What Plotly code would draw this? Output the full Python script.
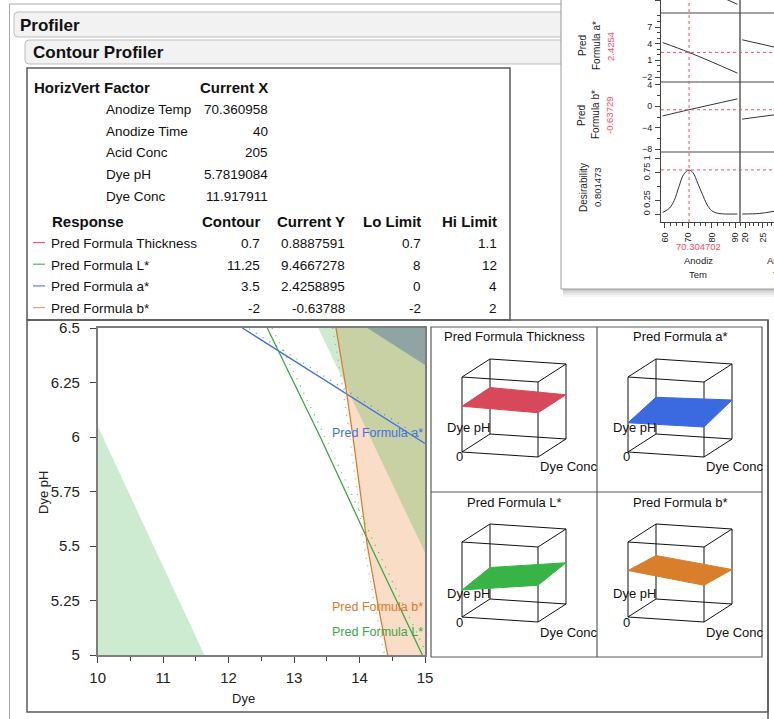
import plotly.graph_objects as go

W, H = 774, 719
FONT = "Liberation Sans, Arial, Helvetica, sans-serif"


def PX(x):
    return x / W


def PY(y):
    return 1 - y / H


# ---------------- data: table ----------------
factor_names = ["Anodize Temp", "Anodize Time", "Acid Conc", "Dye pH", "Dye Conc"]
factor_current_x = ["70.360958", "40", "205", "5.7819084", "11.917911"]
response_names = ["Pred Formula Thickness", "Pred Formula L*", "Pred Formula a*", "Pred Formula b*"]
response_contour = ["0.7", "11.25", "3.5", "-2"]
response_current_y = ["0.8887591", "9.4667278", "2.4258895", "-0.63788"]
response_lo_limit = ["0.7", "8", "0", "-2"]
response_hi_limit = ["1.1", "12", "4", "2"]
response_legend_colors = ["#e0607a", "#4cb85a", "#5a82e8", "#eda068"]

# ---------------- data: contour plot (Dye Conc x Dye pH) ----------------
conc_range = [10, 15]
ph_range = [5, 6.5]
conc_ticks = [10, 11, 12, 13, 14, 15]
ph_ticks = [5, 5.25, 5.5, 5.75, 6, 6.25, 6.5]
ph_tick_text = ["5", "5.25", "5.5", "5.75", "6", "6.25", "6.5"]

a_line_conc = [12.21, 15.0]
a_line_ph = [6.5, 5.97]
L_line_conc = [12.59, 13.40, 14.17, 14.96]
L_line_ph = [6.5, 6.0, 5.5, 5.0]
b_line_conc = [13.64, 13.78, 13.90, 14.01, 14.12, 14.27, 14.43]
b_line_ph = [6.5, 6.25, 6.0, 5.75, 5.5, 5.25, 5.0]

L_hi_bound_conc = [10.0, 11.63]
L_hi_bound_ph = [6.05, 5.0]
L_lo_bound_conc = [13.37, 15.0]
L_lo_bound_ph = [6.5, 5.47]
a_hi_bound_conc = [14.12, 15.0]
a_hi_bound_ph = [6.5, 6.33]

contour_label_names = ["Pred Formula a*", "Pred Formula b*", "Pred Formula L*"]
contour_label_ph = [6.02, 5.22, 5.105]

# ---------------- data: surface panels ----------------
surf_titles = ["Pred Formula Thickness", "Pred Formula a*", "Pred Formula L*", "Pred Formula b*"]
surf_colors = ["#d8485b", "#3b69df", "#38b447", "#d97f2b"]
# normalised response height at corners (conc lo/ph lo, conc hi/ph lo, conc hi/ph hi, conc lo/ph hi)
surf_heights = [
    [0.61, 0.59, 0.59, 0.62],
    [0.39, 0.40, 0.52, 0.49],
    [0.36, 0.49, 0.55, 0.42],
    [0.62, 0.49, 0.46, 0.58],
]
surf_corner_conc = [0, 1, 1, 0]
surf_corner_ph = [0, 0, 1, 1]
cube_lo, cube_hi = 0, 1

# ---------------- data: prediction profiler inset ----------------
temp_range = [58.3, 92.1]
time_range = [18.6, 28.1]
temp_ticks = [60, 70, 80, 90]
time_ticks = [20, 25]
L_range = [2.45, 5.05]
a_range = [-2.9, 9.52]
b_range = [-8.56, 4.56]
d_range = [-0.145, 1.127]
L_ticks = [5]
a_ticks = [-2, 1, 4, 7]
b_ticks = [-8, -4, 0, 4]
d_ticks = [0, 0.25, 0.75, 1]
d_tick_text = ["0", "0.25", "0.75", "1"]

temp_L_x = [84, 91]
temp_L_y = [5.66, 4.19]
temp_a_x = [59, 70.3, 91]
temp_a_y = [4.2, 2.43, -1.3]
temp_b_x = [59, 70.3, 91]
temp_b_y = [-1.8, -0.64, 1.4]
temp_d_x = [59, 60, 62, 64, 66, 68, 70.3, 72, 74, 76, 78, 80, 82, 84, 86, 91]
temp_d_y = [0.03, 0.05, 0.11, 0.25, 0.5, 0.72, 0.80, 0.75, 0.56, 0.36, 0.17, 0.06, 0.02, 0.005, 0.0, 0.0]
time_a_x = [19.2, 28.1]
time_a_y = [4.7, 3.4]
time_b_x = [19.2, 28.1]
time_b_y = [-2.4, -1.6]
time_d_x = [19.2, 24, 28.1]
time_d_y = [0.0, 0.01, 0.05]

current_temp = 70.304702
current_a = 2.4254
current_b = -0.63729
current_d = 0.801473

fig = go.Figure()
shapes = []
ann = []


def hline(x0, y0, x1, y1, color="#666", width=1, dash="solid", layer="below"):
    shapes.append(dict(type="line", xref="paper", yref="paper", x0=PX(x0), y0=PY(y0),
                       x1=PX(x1), y1=PY(y1), line=dict(color=color, width=width, dash=dash),
                       layer=layer))


def rect(x0, y0, x1, y1, line="#666", width=1, fill="rgba(0,0,0,0)", layer="below"):
    shapes.append(dict(type="rect", xref="paper", yref="paper", x0=PX(x0), y0=PY(y1),
                       x1=PX(x1), y1=PY(y0), line=dict(color=line, width=width),
                       fillcolor=fill, layer=layer))


def text(x, y, s, size=13, color="#111", xanchor="left", bold=False, angle=0,
         xref="paper", yref="paper", yanchor="middle"):
    ax = PX(x) if xref == "paper" else x
    ay = PY(y) if yref == "paper" else y
    ann.append(dict(x=ax, y=ay, xref=xref, yref=yref, text=s, showarrow=False,
                    xanchor=xanchor, yanchor=yanchor, textangle=angle,
                    font=dict(family=FONT, size=size, color=color,
                              weight="bold" if bold else "normal")))


def rounded_box(x0, y0, x1, y1, r=4, fill="#f2f2f2", line="#bdbdbd"):
    path = (f"M {PX(x0 + r)},{PY(y0)} L {PX(x1)},{PY(y0)} L {PX(x1)},{PY(y1)} "
            f"L {PX(x0 + r)},{PY(y1)} Q {PX(x0)},{PY(y1)} {PX(x0)},{PY(y1 - r)} "
            f"L {PX(x0)},{PY(y0 + r)} Q {PX(x0)},{PY(y0)} {PX(x0 + r)},{PY(y0)} Z")
    shapes.append(dict(type="path", xref="paper", yref="paper", path=path,
                       fillcolor=fill, line=dict(color=line, width=1), layer="below"))


# ---------------- chrome ----------------
hline(9.5, 4, 9.5, 719, color="#a8a8a8")
hline(9.5, 4, 565, 4, color="#a8a8a8")
rounded_box(14, 12, 800, 37)
rounded_box(25, 40, 800, 64)
text(18, 25, "Profiler", size=17, bold=True)
text(31, 53, "Contour Profiler", size=17, bold=True)

rect(27, 68, 510, 320, line="#5a5a5a", width=1.5)
rect(27, 320, 768, 712, line="#5a5a5a", width=1.5)
hline(768, 320, 768, 719, color="#5a5a5a", width=1.5)

# table
text(32, 87, "HorizVert", size=15, bold=True)
text(102, 87, "Factor", size=15, bold=True)
text(270, 87, "Current X", size=15, bold=True, xanchor="right")
for i, (nm, val) in enumerate(zip(factor_names, factor_current_x)):
    yy = 109.5 + 21.7 * i
    text(104, yy, nm, size=13.5)
    text(270, yy, val, size=13.5, xanchor="right")
text(50, 221.5, "Response", size=15, bold=True)
for lbl, xr in zip(["Contour", "Current Y", "Lo Limit", "Hi Limit"], [262, 347, 423, 499]):
    text(xr, 221.5, lbl, size=15, bold=True, xanchor="right")
for i in range(len(response_names)):
    yy = 243.5 + 21.7 * i
    hline(33, yy - 1, 45, yy - 1, color=response_legend_colors[i], width=1.2)
    text(49, yy, response_names[i], size=13.5)
    for vals, xr in zip([response_contour, response_current_y, response_lo_limit, response_hi_limit],
                        [262, 347, 423, 499]):
        text(xr, yy, vals[i], size=13.5, xanchor="right")

# ---------------- contour plot ----------------
x0r, x1r = conc_range
y0r, y1r = ph_range
fill_orange = "rgba(232,132,52,0.28)"
fill_green = "rgba(46,170,60,0.24)"
fill_blue = "rgba(70,105,165,0.42)"
col_a = "#4470de"
col_L = "#3aa845"
col_b = "#dc7a2c"

fig.add_trace(go.Scatter(x=b_line_conc + [x1r, x1r], y=b_line_ph + [y0r, y1r], fill="toself",
                         fillcolor=fill_orange, mode="lines", line=dict(width=0), hoverinfo="skip"))
fig.add_trace(go.Scatter(x=L_hi_bound_conc + [x0r], y=L_hi_bound_ph + [y0r], fill="toself",
                         fillcolor=fill_green, mode="lines", line=dict(width=0), hoverinfo="skip"))
fig.add_trace(go.Scatter(x=L_lo_bound_conc + [x1r], y=L_lo_bound_ph + [y1r], fill="toself",
                         fillcolor=fill_green, mode="lines", line=dict(width=0), hoverinfo="skip"))
fig.add_trace(go.Scatter(x=a_hi_bound_conc + [x1r], y=a_hi_bound_ph + [y1r], fill="toself",
                         fillcolor=fill_blue, mode="lines", line=dict(width=0), hoverinfo="skip"))

# dotted side markers (style offsets)
for cx, cy, col, dx, dy in [(a_line_conc, a_line_ph, col_a, 0.0, 0.016),
                            (L_line_conc, L_line_ph, col_L, 0.075, 0.0),
                            (b_line_conc, b_line_ph, col_b, -0.05, 0.0)]:
    fig.add_trace(go.Scatter(x=[v + dx for v in cx], y=[v + dy for v in cy], mode="lines",
                             line=dict(color=col, width=1.3, dash="1px,7px"), opacity=0.75,
                             hoverinfo="skip"))
for cx, cy, col in [(a_line_conc, a_line_ph, col_a), (L_line_conc, L_line_ph, col_L),
                    (b_line_conc, b_line_ph, col_b)]:
    fig.add_trace(go.Scatter(x=cx, y=cy, mode="lines", line=dict(color=col, width=1.3),
                             hoverinfo="skip"))

for nm, yv, col in zip(contour_label_names, contour_label_ph, [col_a, col_b, col_L]):
    text(x1r, yv, nm, size=12.5, color=col, xanchor="right", xref="x", yref="y")

text(43, 493, "Dye pH", size=13, color="#222", xanchor="center", angle=-90)
text(243, 698, "Dye", size=13, color="#222", xanchor="center")

# ---------------- surface panels ----------------
rect(431, 327, 762, 657, line="#5a5a5a", width=1.2)
hline(597, 327, 597, 657, color="#5a5a5a", width=1.2)
hline(431, 492, 762, 492, color="#5a5a5a", width=1.2)

P_ORIGIN = (31, 125)
V_CONC = (76, 5)
V_PH = (28, -18)
V_Z = (0, -75)


def proj(c, p, z):
    return (P_ORIGIN[0] + V_CONC[0] * c + V_PH[0] * p + V_Z[0] * z,
            P_ORIGIN[1] + V_CONC[1] * c + V_PH[1] * p + V_Z[1] * z)


cells = [(431, 327), (597, 327), (431, 492), (597, 492)]
CW, CH = 166, 165
corners = [(c, p, z) for c in (cube_lo, cube_hi) for p in (cube_lo, cube_hi) for z in (cube_lo, cube_hi)]
edges = [(a, b) for i, a in enumerate(corners) for b in corners[i + 1:]
         if sum(1 for k in range(3) if a[k] != b[k]) == 1]

layout_axes = {}
for k, (cx0, cy0) in enumerate(cells):
    n = k + 2
    xa, ya = f"x{n}", f"y{n}"
    layout_axes[f"xaxis{n}"] = dict(domain=[PX(cx0), PX(cx0 + CW)], range=[0, CW], visible=False,
                                    anchor=ya, fixedrange=True)
    layout_axes[f"yaxis{n}"] = dict(domain=[PY(cy0 + CH), PY(cy0)], range=[CH, 0], visible=False,
                                    anchor=xa, fixedrange=True)
    ex, ey = [], []
    for a, b in edges:
        pa, pb = proj(*a), proj(*b)
        ex += [pa[0], pb[0], None]
        ey += [pa[1], pb[1], None]
    fig.add_trace(go.Scatter(x=ex, y=ey, mode="lines", line=dict(color="#111", width=1),
                             xaxis=xa, yaxis=ya, hoverinfo="skip"))
    pts = [proj(c, p, z) for c, p, z in zip(surf_corner_conc, surf_corner_ph, surf_heights[k])]
    fig.add_trace(go.Scatter(x=[q[0] for q in pts] + [pts[0][0]], y=[q[1] for q in pts] + [pts[0][1]],
                             mode="lines", fill="toself", fillcolor=surf_colors[k],
                             line=dict(color=surf_colors[k], width=1), xaxis=xa, yaxis=ya,
                             hoverinfo="skip"))
    text(CW / 2, 10, surf_titles[k], size=13, color="#111", xanchor="center", xref=xa, yref=ya)
    o = proj(cube_lo, cube_lo, cube_lo)
    text(o[0] - 2, o[1] + 5, "0", size=13, color="#111", xanchor="center", xref=xa, yref=ya)
    pp = proj(cube_lo, cube_hi, cube_lo)
    text(pp[0] + 2, pp[1] - 6, "Dye pH", size=13, color="#111", xanchor="right", xref=xa, yref=ya)
    pc = proj(cube_hi, cube_lo, cube_lo)
    text(pc[0], pc[1] + 10, "Dye Conc", size=13, color="#111", xanchor="left", xref=xa, yref=ya)

# ---------------- prediction profiler inset ----------------
for i, op in enumerate([0.22, 0.15, 0.09, 0.04]):
    rect(563, 289 + 2 * i, 790, 291 + 2 * i, line="rgba(0,0,0,0)", width=0,
         fill=f"rgba(0,0,0,{op})")
rect(561, -5, 790, 289, line="#9a9a9a", width=1, fill="white")

hline(661, 13, 790, 13, color="#444", width=1, layer="above")
hline(661, 82, 790, 82, color="#444", width=1, layer="above")
hline(661, 152, 790, 152, color="#444", width=1, layer="above")
hline(740, -2, 740, 222, color="#444", width=1.3, layer="above")

red = "#ff4d63"
shapes.append(dict(type="line", xref="x6", yref="paper", x0=current_temp, x1=current_temp,
                   y0=PY(222), y1=1, line=dict(color=red, width=1, dash="dot"), layer="above"))
for yref, val in [("y7", current_a), ("y8", current_b), ("y9", current_d)]:
    shapes.append(dict(type="line", xref="paper", yref=yref, x0=PX(661), x1=1, y0=val, y1=val,
                       line=dict(color=red, width=1, dash="dot"), layer="above"))

ink = "#333"
for xs, ys, xa, ya in [(temp_L_x, temp_L_y, "x6", "y6"), (temp_a_x, temp_a_y, "x6", "y7"),
                       (temp_b_x, temp_b_y, "x6", "y8"), (temp_d_x, temp_d_y, "x6", "y9"),
                       (time_a_x, time_a_y, "x7", "y7"), (time_b_x, time_b_y, "x7", "y8"),
                       (time_d_x, time_d_y, "x7", "y9")]:
    fig.add_trace(go.Scatter(x=xs, y=ys, mode="lines", line=dict(color=ink, width=1, shape="spline"),
                             xaxis=xa, yaxis=ya, hoverinfo="skip"))

small_tick = dict(family=FONT, size=9, color="#222")
inset_x = dict(showline=True, linecolor="#444", linewidth=1, ticks="outside", ticklen=5,
               tickcolor="#444", tickangle=-90, tickfont=small_tick, zeroline=False, showgrid=False,
               fixedrange=True, ticklabelstandoff=1, automargin=False)
layout_axes["xaxis6"] = dict(inset_x, domain=[PX(661), PX(740)], range=temp_range, anchor="y9",
                             tickmode="array", tickvals=temp_ticks,
                             minor=dict(ticks="outside", ticklen=3, tickcolor="#444", tickmode="linear",
                                        tick0=60, dtick=2.5))
layout_axes["xaxis7"] = dict(inset_x, domain=[PX(740), 1], range=time_range, anchor="y9",
                             tickmode="array", tickvals=time_ticks,
                             minor=dict(ticks="outside", ticklen=3, tickcolor="#444", tickmode="linear",
                                        tick0=20, dtick=1.25))
inset_y = dict(showline=True, linecolor="#444", linewidth=1, ticks="outside", ticklen=5,
               tickcolor="#444", tickfont=small_tick, zeroline=False, showgrid=False, anchor="x6",
               fixedrange=True, ticklabelstandoff=1, automargin=False)
layout_axes["yaxis6"] = dict(inset_y, domain=[PY(13), 1], range=L_range, tickmode="array",
                             tickvals=L_ticks)
layout_axes["yaxis7"] = dict(inset_y, domain=[PY(82), PY(13)], range=a_range, tickmode="array",
                             tickvals=a_ticks,
                             minor=dict(ticks="outside", ticklen=3, tickcolor="#444", tickmode="linear",
                                        tick0=-2, dtick=1))
layout_axes["yaxis8"] = dict(inset_y, domain=[PY(152), PY(82)], range=b_range, tickmode="array",
                             tickvals=b_ticks,
                             minor=dict(ticks="outside", ticklen=3, tickcolor="#444", tickmode="linear",
                                        tick0=-8, dtick=2))
layout_axes["yaxis9"] = dict(inset_y, domain=[PY(222), PY(152)], range=d_range, tickmode="array",
                             tickvals=d_ticks, ticktext=d_tick_text, tickangle=-90,
                             minor=dict(ticks="outside", ticklen=3, tickcolor="#444", tickmode="linear",
                                        tick0=0, dtick=0.25))

# inset labels
text(582, 46, "Pred", size=10, color="#222", xanchor="center", angle=-90)
text(596, 46, "Formula a*", size=10, color="#222", xanchor="center", angle=-90)
text(610, 47, f"{current_a:.4f}", size=9.5, color=red, xanchor="center", angle=-90)
text(582, 116, "Pred", size=10, color="#222", xanchor="center", angle=-90)
text(596, 115, "Formula b*", size=10, color="#222", xanchor="center", angle=-90)
text(610, 115, f"{current_b:.5f}", size=9.5, color=red, xanchor="center", angle=-90)
text(583, 188, "Desirability", size=10, color="#222", xanchor="center", angle=-90)
text(597, 187, f"{current_d:.6f}", size=9.5, color="#222", xanchor="center", angle=-90)
text(698, 246, f"{current_temp:.6f}", size=9.5, color=red, xanchor="center")
text(698, 260, "Anodiz", size=9.5, color="#222", xanchor="center")
text(698, 274, "Tem", size=9.5, color="#222", xanchor="center")
text(781, 260, "Anodiz", size=9.5, color="#222", xanchor="center")
text(781, 274, "Tim", size=9.5, color="#222", xanchor="center")

# ---------------- main axes ----------------
main_font = dict(family=FONT, size=15, color="#222")
layout_axes["xaxis"] = dict(domain=[PX(97.7), PX(425)], range=conc_range, anchor="y",
                            tickmode="array", tickvals=conc_ticks, ticks="outside", ticklen=6,
                            tickcolor="#444", tickfont=main_font, showline=True, mirror=True,
                            linecolor="#7d7d7d", linewidth=1.5, zeroline=False, showgrid=False,
                            fixedrange=True, ticklabelstandoff=2, automargin=False,
                            minor=dict(ticks="outside", ticklen=4, tickcolor="#444", tickmode="linear",
                                       tick0=10, dtick=0.5))
layout_axes["yaxis"] = dict(domain=[PY(655), PY(328)], range=ph_range, anchor="x",
                            tickmode="array", tickvals=ph_ticks, ticktext=ph_tick_text,
                            ticks="outside", ticklen=6, tickcolor="#444", tickfont=main_font,
                            showline=True, mirror=True, linecolor="#7d7d7d", linewidth=1.5,
                            zeroline=False, showgrid=False, fixedrange=True, ticklabelstandoff=7,
                            automargin=False)

fig.update_layout(width=W, height=H, margin=dict(l=0, r=0, t=0, b=0, pad=0, autoexpand=False),
                  autosize=False,
                  paper_bgcolor="white", plot_bgcolor="rgba(0,0,0,0)", showlegend=False,
                  shapes=shapes, annotations=ann, font=dict(family=FONT), **layout_axes)

fig.write_html("out.html", config={"displayModeBar": False},
               post_script="document.body.style.margin='0';document.body.style.overflow='hidden';")
